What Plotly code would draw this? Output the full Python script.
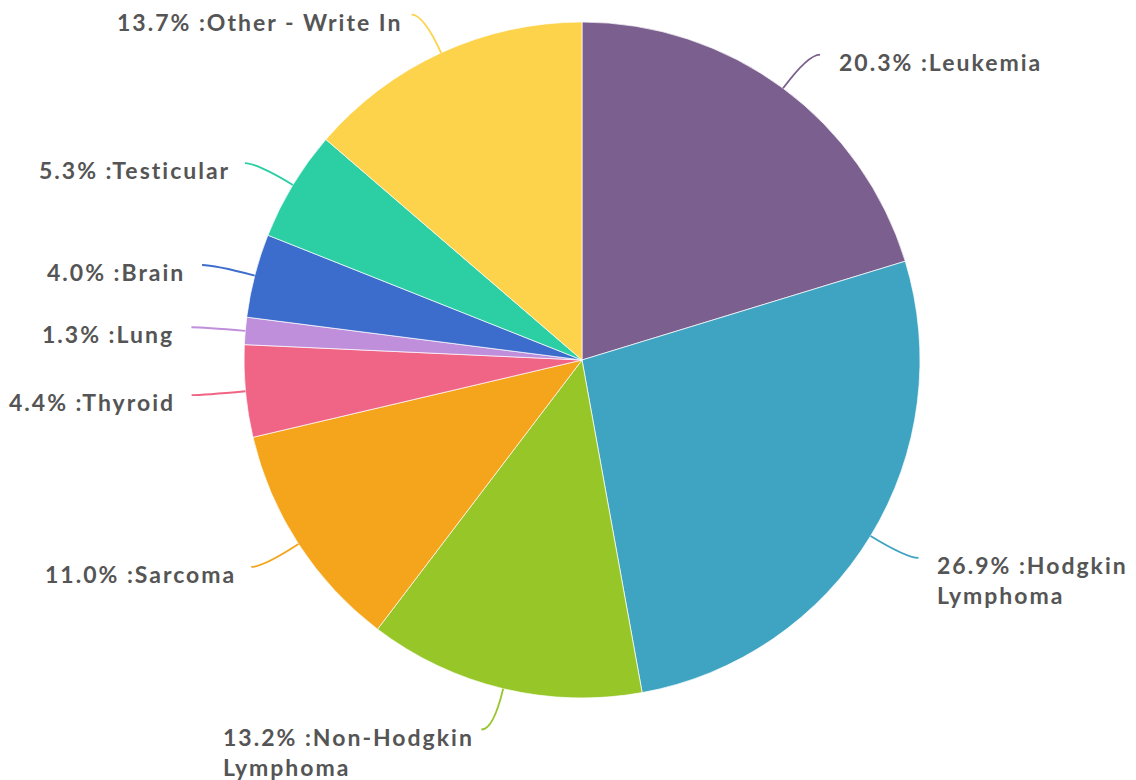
import math
import plotly.graph_objects as go

categories = ["Leukemia", "Hodgkin Lymphoma", "Non-Hodgkin Lymphoma", "Sarcoma",
              "Thyroid", "Lung", "Brain", "Testicular", "Other - Write In"]
label_lines = ["Leukemia", "Hodgkin<br>Lymphoma", "Non-Hodgkin<br>Lymphoma", "Sarcoma",
               "Thyroid", "Lung", "Brain", "Testicular", "Other - Write In"]
values = [20.3, 26.9, 13.2, 11.0, 4.4, 1.3, 4.0, 5.3, 13.7]
colors = ["#7b5f8e", "#3fa3c2", "#96c628", "#f4a51c", "#f06586",
          "#bf8fdc", "#3d6dcc", "#2bcfa3", "#fcd34a"]

W, H = 1136, 780
OFF = 8  # page body margin
cx, cy, R = 582 - OFF, 360 - OFF, 338
L1, L2 = 42, 12
FONT = 23
SPACING = 2

def px(x):
    return x / W

def py(y):
    return 1 - y / H

fig = go.Figure(go.Pie(
    labels=categories, values=values, sort=False, direction="clockwise", rotation=0,
    marker=dict(colors=colors, line=dict(color="white", width=0.7)),
    textinfo="none", hoverinfo="label+percent", showlegend=False,
    domain=dict(x=[px(cx - R), px(cx + R)], y=[py(cy + R), py(cy - R)]),
))

total = sum(values)
cum = 0.0
shapes, annotations = [], []
for name, lines, v, c in zip(categories, label_lines, values, colors):
    mid = (cum + v / 2) / total * 2 * math.pi
    cum += v
    dx, dy = math.sin(mid), -math.cos(mid)
    x0, y0 = cx + R * dx, cy + R * dy
    x1, y1 = cx + (R + L1) * dx, cy + (R + L1) * dy
    side = 1 if dx >= 0 else -1
    x2, y2 = x1 + side * L2, y1
    shapes.append(dict(
        type="path", xref="paper", yref="paper",
        path=f"M {px(x0)},{py(y0)} Q {px(x1)},{py(y1)} {px(x2)},{py(y2)}",
        line=dict(color=c, width=1.8),
    ))
    gap = 17 if side > 0 else 2 + 13 * abs(dx)
    text = f"<span style='letter-spacing:{SPACING}px'>{v:.1f}% :{lines}</span>"
    annotations.append(dict(
        xref="paper", yref="paper", x=px(x2 + side * gap), y=py(y2 - 9),
        xanchor="left" if side > 0 else "right", yanchor="top", align="left",
        text=text, showarrow=False,
        font=dict(family="Lato", size=FONT, color="#555555", weight="bold"),
    ))

fig.update_layout(
    width=W, height=H, margin=dict(l=0, r=0, t=0, b=0),
    paper_bgcolor="white", plot_bgcolor="white",
    shapes=shapes, annotations=annotations,
)
fig.write_html("out.html")
